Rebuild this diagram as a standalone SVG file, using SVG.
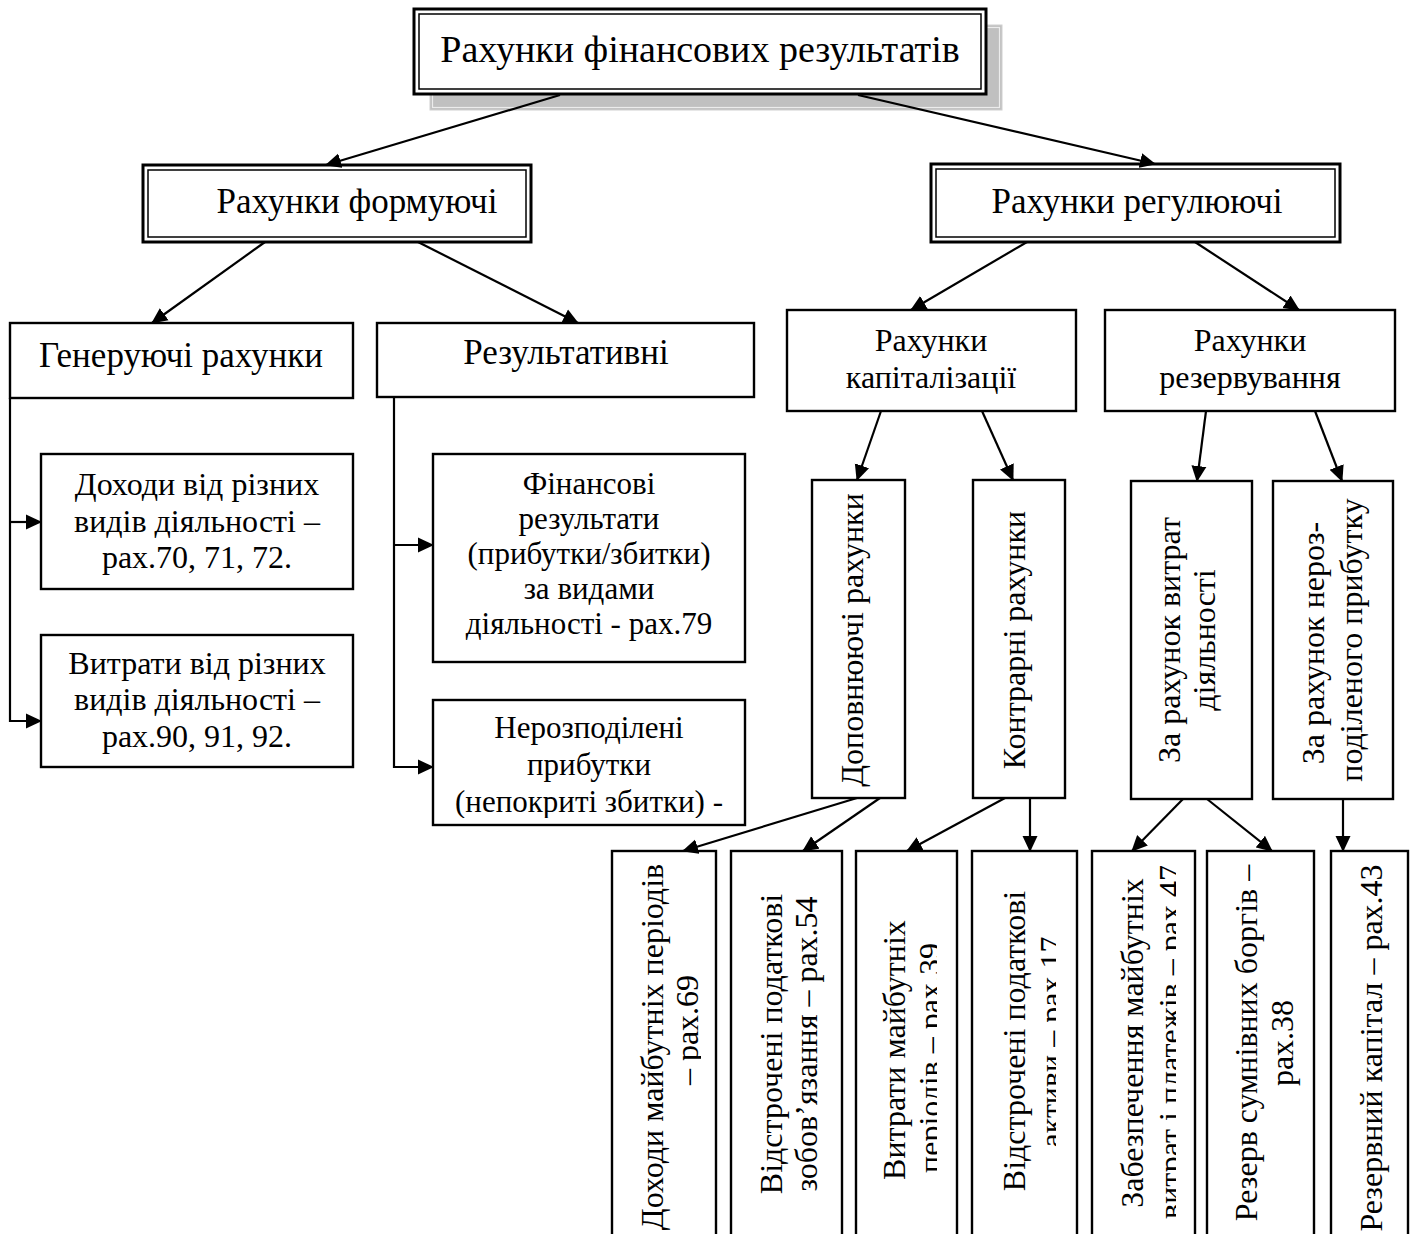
<svg xmlns="http://www.w3.org/2000/svg" width="1413" height="1234" viewBox="0 0 1413 1234">
<style>
.t{font-family:"Liberation Serif","Times New Roman",serif;font-size:32px;fill:#000;text-anchor:middle}
.l{font-size:35px}
.s{font-size:31px}
.box{fill:#fff;stroke:#000;stroke-width:2.4}
.dbo{fill:#fff;stroke:#000;stroke-width:3}
.dbi{fill:none;stroke:#000;stroke-width:1.5}
.c{fill:none;stroke:#000;stroke-width:2.2}
</style>
<defs>
<marker id="ah" markerUnits="userSpaceOnUse" markerWidth="16" markerHeight="16" refX="15" refY="8" orient="auto">
<path d="M0,0.5 L16,8 L0,15.5 z" fill="#000"/>
</marker>
<clipPath id="clipN" clipPathUnits="userSpaceOnUse"><rect x="433" y="700" width="312" height="118"/></clipPath>
<clipPath id="clipA" clipPathUnits="userSpaceOnUse"><rect x="612" y="851" width="89" height="400"/></clipPath>
<clipPath id="clipC" clipPathUnits="userSpaceOnUse"><rect x="856" y="851" width="81" height="400"/></clipPath>
<clipPath id="clipD" clipPathUnits="userSpaceOnUse"><rect x="972" y="851" width="84" height="400"/></clipPath>
<clipPath id="clipE" clipPathUnits="userSpaceOnUse"><rect x="1092" y="851" width="84" height="400"/></clipPath>
</defs>

<g id="title">
<rect x="430" y="25" width="572" height="85" fill="#c0c0c0" stroke="#d0d0d0" stroke-width="1"/>
<rect x="432.5" y="27.5" width="567" height="80" fill="none" stroke="#ececec" stroke-width="1.2"/>
<rect class="dbo" x="414" y="9" width="572" height="85"/>
<rect class="dbi" x="419" y="14" width="562" height="75"/>
<text class="t" x="700" y="62" style="font-size:38px">Рахунки фінансових результатів</text>
</g>

<g id="formuiuchi">
<rect class="dbo" x="143" y="165" width="388" height="77"/>
<rect class="dbi" x="148" y="170" width="378" height="67"/>
<text class="t l" x="357" y="213">Рахунки формуючі</text>
</g>

<g id="rehuliuiuchi">
<rect class="dbo" x="931" y="164" width="409" height="78"/>
<rect class="dbi" x="936" y="169" width="399" height="68"/>
<text class="t l" x="1137" y="213">Рахунки регулюючі</text>
</g>

<g id="heneruiuchi">
<rect class="box" x="10" y="323" width="343" height="75"/>
<text class="t l" x="181" y="367">Генеруючі рахунки</text>
</g>

<g id="rezultatyvni">
<rect class="box" x="377" y="323" width="377" height="74"/>
<text class="t l" x="566" y="364">Результативні</text>
</g>

<g id="dokhody">
<rect class="box" x="41" y="454" width="312" height="135"/>
<text class="t" x="197" y="495">Доходи від різних</text>
<text class="t" x="197" y="532">видів діяльності –</text>
<text class="t" x="197" y="568">рах.70, 71, 72.</text>
</g>

<g id="vytraty">
<rect class="box" x="41" y="635" width="312" height="132"/>
<text class="t" x="197" y="674">Витрати від різних</text>
<text class="t" x="197" y="710">видів діяльності –</text>
<text class="t" x="197" y="747">рах.90, 91, 92.</text>
</g>

<g id="finansovi">
<rect class="box" x="433" y="454" width="312" height="208"/>
<text class="t s" x="589" y="494">Фінансові</text>
<text class="t s" x="589" y="529">результати</text>
<text class="t s" x="589" y="564">(прибутки/збитки)</text>
<text class="t s" x="589" y="599">за видами</text>
<text class="t s" x="589" y="634">діяльності - рах.79</text>
</g>

<g id="nerozpodileni">
<rect class="box" x="433" y="700" width="312" height="125"/>
<g clip-path="url(#clipN)">
<text class="t s" x="589" y="738">Нерозподілені</text>
<text class="t s" x="589" y="775">прибутки</text>
<text class="t s" x="589" y="812">(непокриті збитки) -</text>
</g>
</g>

<g id="kapitalizatsii">
<rect class="box" x="787" y="310" width="289" height="101"/>
<text class="t" x="931" y="351">Рахунки</text>
<text class="t" x="931" y="388">капіталізації</text>
</g>

<g id="rezervuvannia">
<rect class="box" x="1105" y="310" width="290" height="101"/>
<text class="t" x="1250" y="351">Рахунки</text>
<text class="t" x="1250" y="388">резервування</text>
</g>

<g id="dopovniuiuchi">
<rect class="box" x="812" y="480" width="93" height="318"/>
<text class="t" transform="translate(863,640) rotate(-90)">Доповнюючі рахунки</text>
</g>

<g id="kontrarni">
<rect class="box" x="973" y="480" width="92" height="318"/>
<text class="t" transform="translate(1025,640) rotate(-90)">Контрарні рахунки</text>
</g>

<g id="vytrat-diialnosti">
<rect class="box" x="1131" y="481" width="121" height="318"/>
<text class="t" transform="translate(1180,640) rotate(-90)">За рахунок витрат</text>
<text class="t" transform="translate(1215,640) rotate(-90)">діяльності</text>
</g>

<g id="nerozpodilenoho">
<rect class="box" x="1273" y="481" width="120" height="318"/>
<text class="t" transform="translate(1324,643) rotate(-90)">За рахунок нероз-</text>
<text class="t" transform="translate(1362,640) rotate(-90)">поділеного прибутку</text>
</g>

<g id="dokhody-maibutnikh">
<rect class="box" x="612" y="851" width="104" height="400"/>
<g clip-path="url(#clipA)">
<text class="t" transform="translate(663,1047) rotate(-90)">Доходи майбутніх періодів</text>
<text class="t" transform="translate(698,1030) rotate(-90)">– рах.69</text>
</g>
</g>

<g id="vidstrocheni-zobov">
<rect class="box" x="731" y="851" width="111" height="400"/>
<text class="t" transform="translate(782,1044) rotate(-90)">Відстрочені податкові</text>
<text class="t" transform="translate(817,1044) rotate(-90)">зобов’язання – рах.54</text>
</g>

<g id="vytraty-maibutnikh">
<rect class="box" x="856" y="851" width="101" height="400"/>
<g clip-path="url(#clipC)">
<text class="t" transform="translate(905,1050) rotate(-90)">Витрати майбутніх</text>
<text class="t" transform="translate(941,1058) rotate(-90)">періодів – рах.39</text>
</g>
</g>

<g id="vidstrocheni-aktyvy">
<rect class="box" x="972" y="851" width="105" height="400"/>
<g clip-path="url(#clipD)">
<text class="t" transform="translate(1025,1041) rotate(-90)">Відстрочені податкові</text>
<text class="t" transform="translate(1062,1042) rotate(-90)">активи – рах.17</text>
</g>
</g>

<g id="zabezpechennia">
<rect class="box" x="1092" y="851" width="103" height="400"/>
<g clip-path="url(#clipE)">
<text class="t" transform="translate(1143,1043) rotate(-90)">Забезпечення майбутніх</text>
<text class="t" transform="translate(1181,1042) rotate(-90)">витрат і платежів – рах.47</text>
</g>
</g>

<g id="rezerv-borhiv">
<rect class="box" x="1207" y="851" width="107" height="400"/>
<text class="t" transform="translate(1257,1043) rotate(-90)">Резерв сумнівних боргів –</text>
<text class="t" transform="translate(1293,1043) rotate(-90)">рах.38</text>
</g>

<g id="rezervnyi-kapital">
<rect class="box" x="1331" y="851" width="77" height="400"/>
<text class="t" transform="translate(1382,1048) rotate(-90)">Резервний капітал – рах.43</text>
</g>

<g id="connectors">
<line class="c" x1="560" y1="95" x2="326" y2="165" marker-end="url(#ah)"/>
<line class="c" x1="858" y1="95" x2="1155" y2="164" marker-end="url(#ah)"/>
<line class="c" x1="265" y1="242" x2="152" y2="323" marker-end="url(#ah)"/>
<line class="c" x1="418" y1="242" x2="578" y2="323" marker-end="url(#ah)"/>
<polyline class="c" points="10,398 10,721 41,721" marker-end="url(#ah)"/>
<line class="c" x1="10" y1="522" x2="41" y2="522" marker-end="url(#ah)"/>
<polyline class="c" points="394,397 394,767 433,767" marker-end="url(#ah)"/>
<line class="c" x1="394" y1="545" x2="433" y2="545" marker-end="url(#ah)"/>
<line class="c" x1="1027" y1="242" x2="911" y2="310" marker-end="url(#ah)"/>
<line class="c" x1="1195" y1="242" x2="1299" y2="310" marker-end="url(#ah)"/>
<line class="c" x1="881" y1="411" x2="857" y2="480" marker-end="url(#ah)"/>
<line class="c" x1="982" y1="411" x2="1013" y2="480" marker-end="url(#ah)"/>
<line class="c" x1="1206" y1="411" x2="1197" y2="481" marker-end="url(#ah)"/>
<line class="c" x1="1315" y1="411" x2="1342" y2="481" marker-end="url(#ah)"/>
<line class="c" x1="857" y1="798" x2="683" y2="851" marker-end="url(#ah)"/>
<line class="c" x1="880" y1="798" x2="803" y2="851" marker-end="url(#ah)"/>
<line class="c" x1="1005" y1="798" x2="907" y2="851" marker-end="url(#ah)"/>
<line class="c" x1="1030" y1="798" x2="1030" y2="851" marker-end="url(#ah)"/>
<line class="c" x1="1183" y1="799" x2="1132" y2="851" marker-end="url(#ah)"/>
<line class="c" x1="1207" y1="799" x2="1272" y2="851" marker-end="url(#ah)"/>
<line class="c" x1="1343" y1="799" x2="1343" y2="851" marker-end="url(#ah)"/>
</g>
</svg>
